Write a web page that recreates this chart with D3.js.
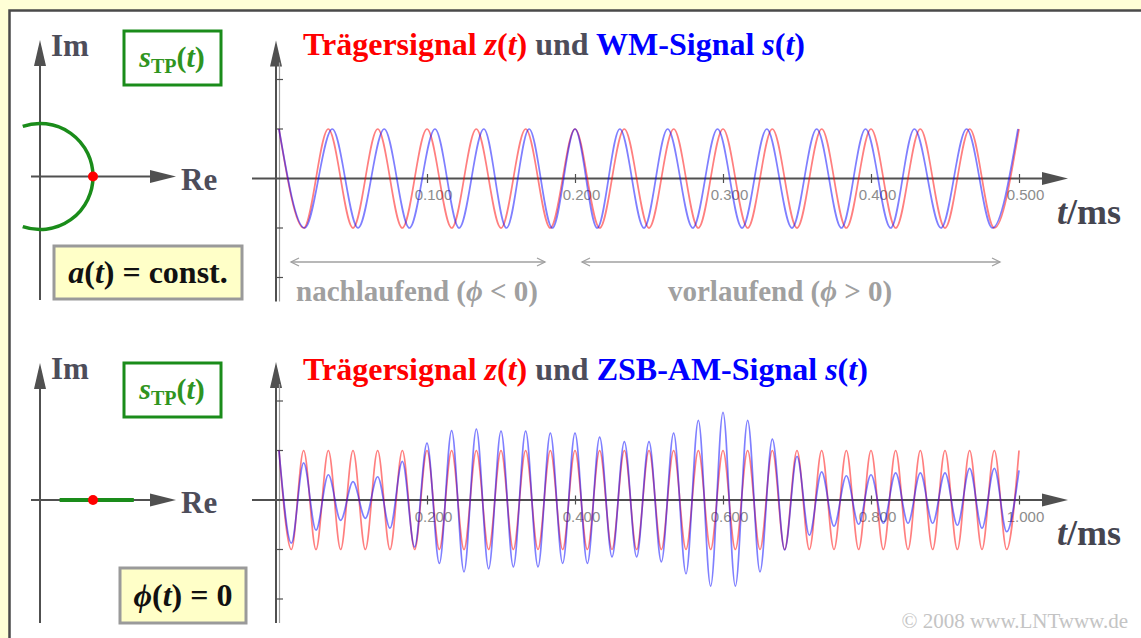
<!DOCTYPE html>
<html>
<head>
<meta charset="utf-8">
<script src="https://cdn.jsdelivr.net/npm/d3@7/dist/d3.min.js"></script>
<style>
body { margin: 0; background: #ffffd6; }
svg { display: block; }
text { font-family: "Liberation Serif", "Times New Roman", serif; }
.tick text { font-family: "Liberation Sans", Arial, sans-serif; }
</style>
</head>
<body>
<svg width="1141" height="638"></svg>
<script>
'use strict';

// times (ms) of the maxima / minima of the 30 kHz carrier z(t), every half period
var carrierTimes = [0, 0.0167, 0.0333, 0.05, 0.0667, 0.0833, 0.1, 0.1167, 0.1333, 0.15,
    0.1667, 0.1833, 0.2, 0.2167, 0.2333, 0.25, 0.2667, 0.2833, 0.3, 0.3167,
    0.3333, 0.35, 0.3667, 0.3833, 0.4, 0.4167, 0.4333, 0.45, 0.4667, 0.4833,
    0.5, 0.5167, 0.5333, 0.55, 0.5667, 0.5833, 0.6, 0.6167, 0.6333, 0.65,
    0.6667, 0.6833, 0.7, 0.7167, 0.7333, 0.75, 0.7667, 0.7833, 0.8, 0.8167,
    0.8333, 0.85, 0.8667, 0.8833, 0.9, 0.9167, 0.9333, 0.95, 0.9667, 0.9833, 1.0];
var carrierValues = [1, -1, 1, -1, 1, -1, 1, -1, 1, -1, 1, -1, 1, -1, 1, -1, 1, -1, 1, -1,
    1, -1, 1, -1, 1, -1, 1, -1, 1, -1, 1, -1, 1, -1, 1, -1, 1, -1, 1, -1,
    1, -1, 1, -1, 1, -1, 1, -1, 1, -1, 1, -1, 1, -1, 1, -1, 1, -1, 1, -1, 1];

// WM signal s(t): times (ms) of its maxima / minima (lagging first, leading after 0.2 ms)
var wmTimes = [0, 0.0173, 0.0360, 0.0534, 0.0711, 0.0881, 0.1054, 0.1217, 0.1384, 0.1537,
    0.1690, 0.1847, 0.2000, 0.2150, 0.2303, 0.2466, 0.2626, 0.2796, 0.2963, 0.3129,
    0.3296, 0.3466, 0.3633, 0.3800, 0.3963, 0.4133, 0.4293, 0.4473, 0.4646, 0.4820, 0.4993];

// ZSB-AM signal s(t): value at each carrier extremum
var amValues = [1.0, -0.87, 0.75, -0.61, 0.51, -0.41, 0.37, -0.37, 0.47, -0.57,
    0.78, -0.95, 1.15, -1.28, 1.40, -1.45, 1.43, -1.39, 1.39, -1.35,
    1.39, -1.35, 1.35, -1.28, 1.35, -1.28, 1.27, -1.15, 1.18, -1.15,
    1.18, -1.25, 1.35, -1.49, 1.61, -1.74, 1.77, -1.74, 1.61, -1.45,
    1.23, -1.01, 0.88, -0.71, 0.57, -0.53, 0.49, -0.49, 0.51, -0.47,
    0.55, -0.47, 0.55, -0.47, 0.55, -0.51, 0.64, -0.57, 0.64, -0.64, 0.60];

var topTicks = [0.1, 0.2, 0.3, 0.4, 0.5];
var bottomTicks = [0.2, 0.4, 0.6, 0.8, 1.0];
var yTicks = [-2, -1, 1, 2];
var phaseSwingDeg = 109;   // arc drawn for the WM locus

var d3 = window.d3;
var svg = d3.select('svg');
var AX = '#505050';

svg.append('rect').attr('width', 1141).attr('height', 638).attr('fill', '#ffffd6');
svg.append('rect').attr('x', 9.5).attr('y', 10.5).attr('width', 1200).attr('height', 700)
    .attr('fill', '#fff').attr('stroke', '#4a4a4a').attr('stroke-width', 2.5);

function arrowUp(g, x, yTip, yBot) {
    g.append('line').attr('x1', x).attr('x2', x).attr('y1', yTip + 20).attr('y2', yBot)
        .attr('stroke', AX).attr('stroke-width', 2);
    g.append('path').attr('d', 'M' + x + ',' + yTip + 'L' + (x + 6) + ',' + (yTip + 26) + 'L' + (x - 6) + ',' + (yTip + 26) + 'Z')
        .attr('fill', AX);
}

function arrowRight(g, xLeft, xTip, y) {
    g.append('line').attr('x1', xLeft).attr('x2', xTip - 20).attr('y1', y).attr('y2', y)
        .attr('stroke', AX).attr('stroke-width', 2);
    g.append('path').attr('d', 'M' + xTip + ',' + y + 'L' + (xTip - 26) + ',' + (y - 6.5) + 'L' + (xTip - 26) + ',' + (y + 6.5) + 'Z')
        .attr('fill', AX);
}

function addParts(t, parts) {
    parts.forEach(function (p) {
        var s = t.append('tspan').text(p[0]);
        if (p[1]) s.attr('fill', p[1]);
        if (p[2]) s.attr('font-style', 'italic');
        if (p[3]) s.attr('font-size', p[3]).attr('dy', p[4]);
    });
}

function stpBox(g, y0) {
    g.append('rect').attr('x', 124).attr('y', y0).attr('width', 97).attr('height', 54)
        .attr('fill', 'none').attr('stroke', '#1a8c1a').attr('stroke-width', 3);
    var t = g.append('text').attr('x', 172).attr('y', y0 + 36).attr('text-anchor', 'middle')
        .attr('font-size', 30).attr('font-weight', 'bold').attr('fill', '#2f9420');
    t.append('tspan').attr('font-style', 'italic').text('s');
    t.append('tspan').attr('font-size', 20).attr('dy', 6).text('TP');
    t.append('tspan').attr('dy', -6).text('(');
    t.append('tspan').attr('font-style', 'italic').text('t');
    t.append('tspan').text(')');
}

function phasor(g, cy, yTop, yBot) {
    arrowUp(g, 40, yTop, yBot);
    arrowRight(g, 31, 176, cy);
    g.append('text').attr('x', 51).attr('y', yTop + 16).attr('font-size', 31).attr('font-weight', 'bold')
        .attr('fill', '#4d4d5a').text('Im');
    g.append('text').attr('x', 181).attr('y', cy + 13).attr('font-size', 31).attr('font-weight', 'bold')
        .attr('fill', '#4d4d5a').text('Re');
}

// ---------- top: phasor of WM signal ----------
var xPh = d3.scaleLinear().domain([0, 1]).range([40, 93]);
var gTL = svg.append('g');
phasor(gTL, 176.5, 40, 300);
var r = xPh(1) - xPh(0);
var sw = (180 - phaseSwingDeg) * Math.PI / 180;
var arcPath = d3.path();
arcPath.arc(xPh(0), 176.5, r, -(Math.PI - sw), Math.PI - sw, false);
gTL.append('path').attr('d', arcPath.toString()).attr('fill', 'none')
    .attr('stroke', '#1a8c1a').attr('stroke-width', 3.5);
gTL.append('circle').attr('cx', xPh(Math.abs(carrierValues[0]))).attr('cy', 176.5).attr('r', 5).attr('fill', '#ff0000');
stpBox(gTL, 31);
gTL.append('rect').attr('x', 54).attr('y', 246).attr('width', 188).attr('height', 53)
    .attr('fill', '#ffffc8').attr('stroke', '#9a9a9a').attr('stroke-width', 3);
var ta = gTL.append('text').attr('x', 148).attr('y', 283).attr('text-anchor', 'middle')
    .attr('font-size', 32).attr('font-weight', 'bold').attr('fill', '#111');
addParts(ta, [['a', null, true], ['('], ['t', null, true], [') = const.']]);

// ---------- bottom: phasor of AM signal ----------
var gBL = svg.append('g');
phasor(gBL, 500, 363, 623);
var amExt = d3.extent(amValues, function (v) { return Math.abs(v); });
gBL.append('line').attr('x1', xPh(amExt[0])).attr('x2', xPh(amExt[1])).attr('y1', 500).attr('y2', 500)
    .attr('stroke', '#1a8c1a').attr('stroke-width', 4);
gBL.append('circle').attr('cx', xPh(Math.abs(amValues[0]))).attr('cy', 500).attr('r', 5).attr('fill', '#ff0000');
stpBox(gBL, 363);
gBL.append('rect').attr('x', 120).attr('y', 568).attr('width', 126).attr('height', 55)
    .attr('fill', '#ffffc8').attr('stroke', '#9a9a9a').attr('stroke-width', 3);
var tp = gBL.append('text').attr('x', 183).attr('y', 606).attr('text-anchor', 'middle')
    .attr('font-size', 32).attr('font-weight', 'bold').attr('fill', '#111');
addParts(tp, [['\u03d5', null, true], ['('], ['t', null, true], [') = 0']]);

// ---------- signal charts ----------
function chart(opt) {
    var g = svg.append('g');
    var x = d3.scaleLinear().domain(opt.domain).range([279, 1019]);
    var y = d3.scaleLinear().domain([-1, 1]).range([opt.axisY + 49.5, opt.axisY - 49.5]);

    // y axis (double line)
    arrowUp(g, 276, opt.axisY - 138, opt.axisY + 123);
    g.append('line').attr('x1', 279.5).attr('x2', 279.5).attr('y1', opt.axisY - 116).attr('y2', opt.axisY + 123)
        .attr('stroke', '#a0a0a0').attr('stroke-width', 1.2);
    g.selectAll('.ytick').data(yTicks).enter().append('line')
        .attr('x1', 276).attr('x2', 283)
        .attr('y1', function (d) { return y(d); }).attr('y2', function (d) { return y(d); })
        .attr('stroke', AX).attr('stroke-width', 1.2);

    arrowRight(g, 252, 1068, opt.axisY);

    var ax = d3.axisBottom(x).tickValues(opt.ticks).tickFormat(d3.format('.3f')).tickSize(0);
    var ag = g.append('g').attr('transform', 'translate(0,' + opt.axisY + ')').call(ax)
        .attr('font-size', 15);
    ag.select('.domain').remove();
    ag.selectAll('.tick line').attr('y1', -4.5).attr('y2', 4.5).attr('stroke', AX).attr('stroke-width', 1.2);
    ag.selectAll('.tick text').attr('y', 21.5).attr('dy', 0).attr('dx', 6).attr('fill', '#8c8c8c')
        .style('font-family', '"Liberation Sans", Arial, sans-serif');

    var line = d3.line()
        .x(function (d) { return x(d.t); })
        .y(function (d) { return y(d.v); })
        .curve(d3.curveMonotoneX);

    g.append('path').datum(opt.red).attr('d', line).attr('fill', 'none')
        .attr('stroke', '#ff0000').attr('stroke-opacity', 0.5).attr('stroke-width', 1.7);
    g.append('path').datum(opt.blue).attr('d', line).attr('fill', 'none')
        .attr('stroke', '#0000ff').attr('stroke-opacity', 0.5).attr('stroke-width', 1.7);

    var tt = g.append('text').attr('x', 303).attr('y', opt.titleY)
        .attr('font-size', 32).attr('font-weight', 'bold');
    addParts(tt, [['Tr\u00e4gersignal ', '#ff0000'], ['z', '#ff0000', true], ['(', '#ff0000'], ['t', '#ff0000', true],
        [')', '#ff0000'], [' und ', '#4d4d5a'], [opt.name + ' ', '#0000ff'], ['s', '#0000ff', true],
        ['(', '#0000ff'], ['t', '#0000ff', true], [')', '#0000ff']]);

    var tu = g.append('text').attr('x', 1057).attr('y', opt.axisY + 45)
        .attr('font-size', 36).attr('font-weight', 'bold').attr('fill', '#454550');
    addParts(tu, [['t', null, true], ['/ms']]);
    return g;
}

var n = wmTimes.length;
chart({
    axisY: 178.5, titleY: 55, domain: [0, 0.5], ticks: topTicks, name: 'WM-Signal',
    red: carrierTimes.slice(0, n).map(function (t, i) { return { t: t, v: carrierValues[i] }; }),
    blue: wmTimes.map(function (t, i) { return { t: t, v: carrierValues[i] }; })
});

chart({
    axisY: 500, titleY: 380, domain: [0, 1.0], ticks: bottomTicks, name: 'ZSB-AM-Signal',
    red: carrierTimes.map(function (t, i) { return { t: t, v: carrierValues[i] }; }),
    blue: carrierTimes.map(function (t, i) { return { t: t, v: amValues[i] }; })
});

// lag / lead annotations in the top chart
function dblArrow(x1, x2, y) {
    var c = '#a0a0a0';
    svg.append('line').attr('x1', x1).attr('x2', x2).attr('y1', y).attr('y2', y).attr('stroke', c).attr('stroke-width', 1.3);
    svg.append('path').attr('d', 'M' + (x1 + 8) + ',' + (y - 4) + 'L' + x1 + ',' + y + 'L' + (x1 + 8) + ',' + (y + 4))
        .attr('fill', 'none').attr('stroke', c).attr('stroke-width', 1.3);
    svg.append('path').attr('d', 'M' + (x2 - 8) + ',' + (y - 4) + 'L' + x2 + ',' + y + 'L' + (x2 - 8) + ',' + (y + 4))
        .attr('fill', 'none').attr('stroke', c).attr('stroke-width', 1.3);
}
dblArrow(291, 545, 262);
dblArrow(582, 1000, 262);
var tn = svg.append('text').attr('x', 296).attr('y', 301).attr('font-size', 29).attr('font-weight', 'bold').attr('fill', '#a0a0a0');
addParts(tn, [['nachlaufend ('], ['\u03d5', null, true], [' < 0)']]);
var tv = svg.append('text').attr('x', 668).attr('y', 301).attr('font-size', 29).attr('font-weight', 'bold').attr('fill', '#a0a0a0');
addParts(tv, [['vorlaufend ('], ['\u03d5', null, true], [' > 0)']]);

svg.append('text').attr('x', 1128).attr('y', 628).attr('text-anchor', 'end')
    .attr('font-size', 21).attr('fill', '#c4c4c4').text('\u00a9 2008 www.LNTwww.de');
</script>
</body>
</html>
